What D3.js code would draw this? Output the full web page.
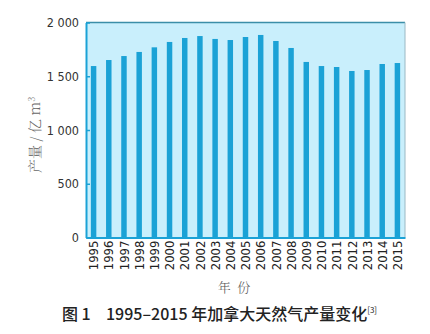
<!DOCTYPE html>
<html><head><meta charset="utf-8">
<script src="https://cdn.jsdelivr.net/npm/d3@7"></script>
<style>body{margin:0;background:#fff}svg{display:block}</style>
</head><body>
<svg id="c" width="430" height="334"></svg>
<script>
const years = ["1995","1996","1997","1998","1999","2000","2001","2002","2003","2004","2005","2006","2007","2008","2009","2010","2011","2012","2013","2014","2015"];
const production = [1595,1651,1688,1726,1769,1819,1856,1874,1847,1837,1865,1884,1828,1763,1633,1595,1586,1549,1558,1614,1623];
const yTicks = [0,500,1000,1500,2000];
const yTickLabels = ["0","500","1 000","1 500","2 000"];

const svg = d3.select("#c");
const L=86, R=405, T=22.5, B=237.5;
const x = d3.scaleBand().domain(years).range([L,R]).paddingInner(0.64).paddingOuter(0.32);
const y = d3.scaleLinear().domain([0,2000]).range([B,T]);

svg.append("rect").attr("x",L).attr("y",T).attr("width",R-L).attr("height",B-T).attr("fill","#c9effc");

svg.append("g").selectAll("rect").data(production).join("rect")
  .attr("x",(d,i)=>x(years[i])).attr("width",x.bandwidth())
  .attr("y",d=>y(d)).attr("height",d=>B-y(d)).attr("fill","#1ba2d6");

// frame
svg.append("line").attr("x1",L).attr("x2",R).attr("y1",T).attr("y2",T).attr("stroke","#3b8ea8").attr("stroke-width",1.5);
svg.append("line").attr("x1",R).attr("x2",R).attr("y1",T).attr("y2",B).attr("stroke","#9ab8c4").attr("stroke-width",1);

const numFont = "'DejaVu Sans Condensed','Liberation Sans Narrow',sans-serif";
const yAxis = d3.axisLeft(y).tickValues(yTicks).tickFormat((d,i)=>yTickLabels[i]).tickSizeInner(-4).tickSizeOuter(0).tickPadding(7);
const gy = svg.append("g").attr("transform",`translate(${L},0)`).call(yAxis);
gy.select(".domain").attr("stroke","#1ba2d6").attr("stroke-width",2);
gy.selectAll(".tick line").attr("stroke","#1ba2d6").attr("stroke-width",1.5);
gy.selectAll("text").attr("font-family",numFont).attr("font-size",12.5).attr("fill","#333").attr("font-weight",200);

const xAxis = d3.axisBottom(x).tickSize(0).tickSizeOuter(0).tickPadding(3);
const gx = svg.append("g").attr("transform",`translate(0,${B})`).call(xAxis);
gx.select(".domain").attr("stroke","#1ba2d6").attr("stroke-width",2);
gx.selectAll("text").attr("font-family",numFont).attr("font-size",13).attr("fill","#222").attr("font-weight",200)
  .attr("transform","rotate(-90)").attr("text-anchor","end").attr("dy","0.36em").attr("x",-3).attr("y",0);

svg.append("text").attr("transform","translate(40,135) rotate(-90)").attr("text-anchor","middle")
  .attr("font-family","'Noto Serif CJK SC','Noto Sans CJK SC',serif").attr("font-size",14).attr("fill","#666").attr("font-weight",300)
  .html('产量 / 亿 m<tspan dy="-5" font-size="9">3</tspan>');

svg.append("text").attr("x",234).attr("y",292).attr("text-anchor","middle").style("white-space","pre")
  .attr("font-family","'Noto Serif CJK SC','Noto Sans CJK SC',serif").attr("font-size",13).attr("fill","#555").attr("font-weight",300)
  .text("年  份");

const cap = svg.append("text").attr("y",320)
  .attr("font-family","'Noto Sans CJK SC',sans-serif").attr("font-size",16).attr("fill","#222").attr("font-weight",500);
cap.append("tspan").attr("x",62).text("图 1");
cap.append("tspan").attr("x",106).text("1995–2015 年加拿大天然气产量变化");
cap.append("tspan").attr("dy",-7).attr("font-size",8).attr("font-weight",400).text("[3]");
</script>
</body></html>
